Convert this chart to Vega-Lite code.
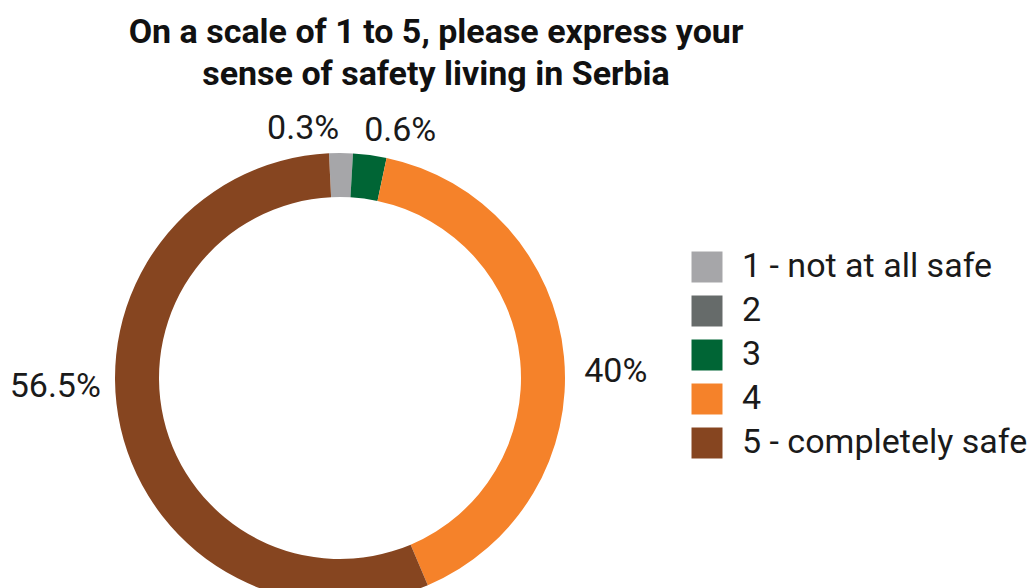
{
  "$schema": "https://vega.github.io/schema/vega-lite/v6.json",
  "autosize": {"type": "none"},
  "padding": {"left": 0, "top": 110, "right": 350, "bottom": 0},
  "width": 680,
  "height": 536,
  "background": "white",
  "view": {"stroke": null},
  "title": {
    "text": ["On a scale of 1 to 5, please express your", "sense of safety living in Serbia"],
    "font": "Roboto",
    "fontSize": 34,
    "fontWeight": "bold",
    "color": "#111111",
    "lineHeight": 42,
    "anchor": "middle",
    "frame": "group",
    "dx": 96,
    "dy": 74,
    "offset": 0
  },
  "data": {
    "values": [
      {"category": "1 - not at all safe", "share": 1.7, "label": "0.3%"},
      {"category": "2", "share": 0, "label": ""},
      {"category": "3", "share": 2.4, "label": "0.6%"},
      {"category": "4", "share": 40.3, "label": "40%"},
      {"category": "5 - completely safe", "share": 55.6, "label": "56.5%"}
    ]
  },
  "encoding": {
    "theta": {"field": "share", "type": "quantitative", "stack": true, "scale": {"range": [-0.049, 6.234]}},
    "order": {"field": "category", "type": "ordinal", "sort": "ascending"}
  },
  "layer": [
    {
      "mark": {"type": "arc", "outerRadius": 225, "innerRadius": 181, "stroke": null},
      "encoding": {
        "color": {
          "field": "category",
          "type": "nominal",
          "scale": {
            "domain": ["1 - not at all safe", "2", "3", "4", "5 - completely safe"],
            "range": ["#a6a6a9", "#666b6a", "#006535", "#f5822a", "#864520"]
          },
          "legend": {
            "title": null,
            "orient": "none",
            "legendX": 690,
            "legendY": 140,
            "padding": 0,
            "symbolType": "square",
            "symbolSize": 961,
            "symbolStrokeWidth": 0,
            "symbolOpacity": 1,
            "labelFont": "Roboto",
            "labelFontSize": 34,
            "labelColor": "#1a1a1a",
            "labelOffset": 18,
            "rowPadding": 10,
            "labelLimit": 400
          }
        }
      }
    },
    {
      "mark": {"type": "text", "radius": 250, "dx": -38, "dy": 1, "font": "Roboto", "fontSize": 34, "color": "#1a1a1a", "align": "center", "baseline": "middle"},
      "encoding": {"text": {"condition": {"test": "datum.category === '1 - not at all safe'", "field": "label"}, "value": ""}}
    },
    {
      "mark": {"type": "text", "radius": 250, "dx": 27, "dy": 1, "font": "Roboto", "fontSize": 34, "color": "#1a1a1a", "align": "center", "baseline": "middle"},
      "encoding": {"text": {"condition": {"test": "datum.category === '3'", "field": "label"}, "value": ""}}
    },
    {
      "mark": {"type": "text", "radius": 276, "dx": 1, "dy": 21, "font": "Roboto", "fontSize": 34, "color": "#1a1a1a", "align": "center", "baseline": "middle"},
      "encoding": {"text": {"condition": {"test": "datum.category === '4'", "field": "label"}, "value": ""}}
    },
    {
      "mark": {"type": "text", "radius": 288, "dx": -4, "dy": -55, "font": "Roboto", "fontSize": 34, "color": "#1a1a1a", "align": "center", "baseline": "middle"},
      "encoding": {"text": {"condition": {"test": "datum.category === '5 - completely safe'", "field": "label"}, "value": ""}}
    }
  ]
}
